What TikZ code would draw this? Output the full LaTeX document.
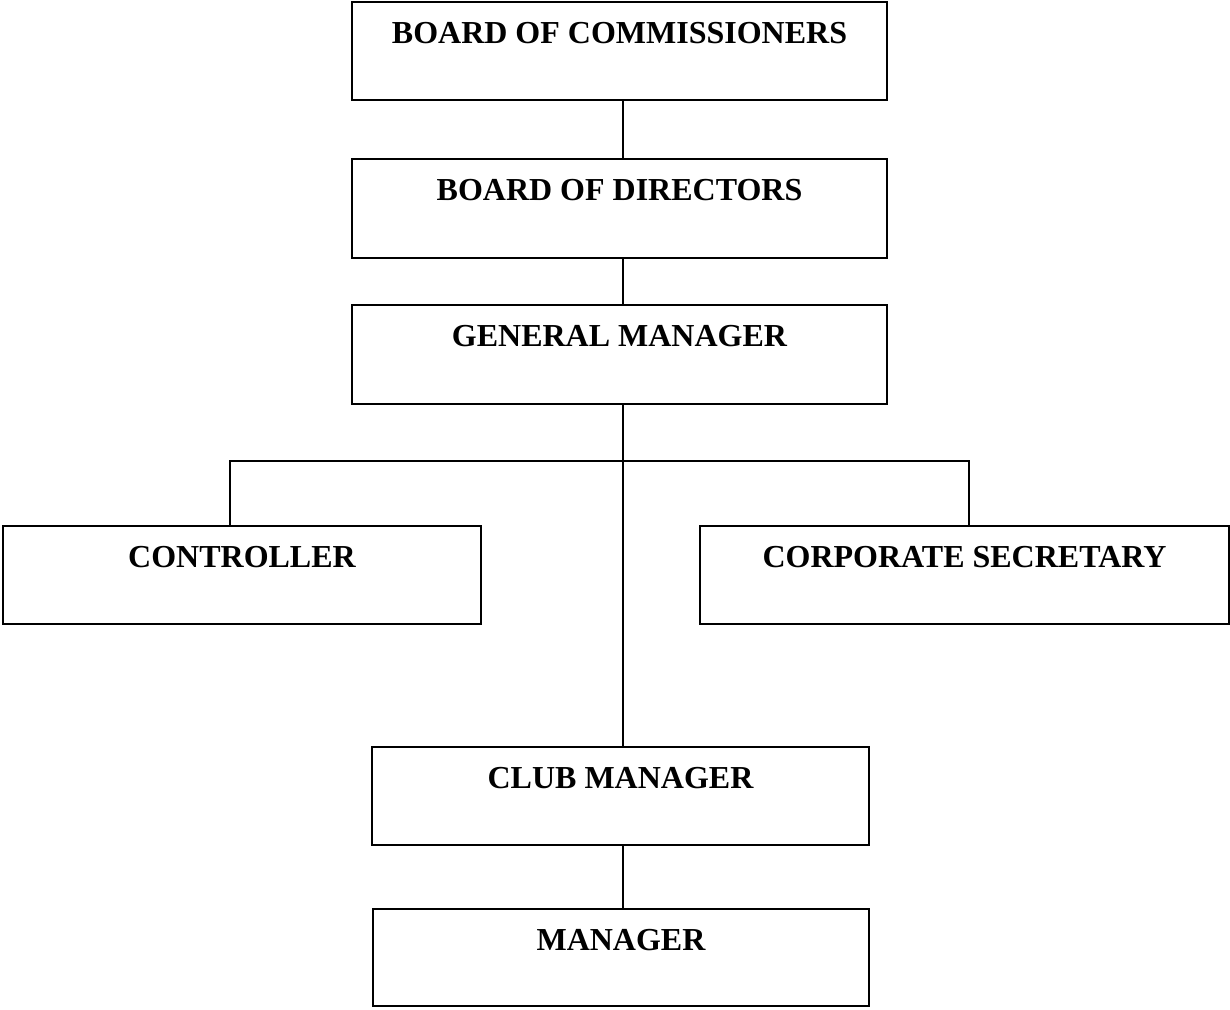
\documentclass[tikz,border=0pt]{standalone}
\usepackage{fontspec}
\setmainfont{Liberation Serif}
\begin{document}
\begin{tikzpicture}[x=1pt,y=-1pt,
  box/.style={draw=black, line width=2pt, rectangle, inner sep=0pt},
  lbl/.style={anchor=base, inner sep=0pt, font=\fontsize{32}{37}\selectfont\bfseries},
  conn/.style={draw=black, line width=2pt}]
\useasboundingbox (0,0) rectangle (1230,1009);
% boxes
\node[box, minimum width=535pt, minimum height=98pt] (bc) at (619.5,51) {};
\node[box, minimum width=535pt, minimum height=99pt] (bd) at (619.5,208.5) {};
\node[box, minimum width=535pt, minimum height=99pt] (gm) at (619.5,354.5) {};
\node[box, minimum width=478pt, minimum height=98pt] (ct) at (242,575) {};
\node[box, minimum width=529pt, minimum height=98pt] (cs) at (964.5,575) {};
\node[box, minimum width=497pt, minimum height=98pt] (cm) at (620.5,796) {};
\node[box, minimum width=496pt, minimum height=97pt] (mg) at (621,957.5) {};
% labels
\node[lbl] (bct) at ([yshift=-42pt]bc.north) {BOARD OF COMMISSIONERS};
\node[lbl] (bdt) at ([yshift=-42pt]bd.north) {BOARD OF DIRECTORS};
\node[lbl] (gmt) at ([yshift=-42pt]gm.north) {GENERAL MANAGER};
\node[lbl] (ctt) at ([yshift=-42pt]ct.north) {CONTROLLER};
\node[lbl] (cst) at ([yshift=-42pt]cs.north) {CORPORATE SECRETARY};
\node[lbl] (cmt) at ([yshift=-42pt]cm.north) {CLUB MANAGER};
\node[lbl] (mgt) at ([yshift=-42pt]mg.north) {MANAGER};
% connectors
\coordinate (spine) at (623,0);
\coordinate (lt) at (230,461);
\coordinate (rt) at (969,461);
\draw[conn] (bc.south -| spine) -- (bd.north -| spine);
\draw[conn] (bd.south -| spine) -- (gm.north -| spine);
\draw[conn] (gm.south -| spine) -- (cm.north -| spine);
\draw[conn] (ct.north -| lt) -- (lt) -- (rt) -- (cs.north -| rt);
\draw[conn] (cm.south -| spine) -- (mg.north -| spine);
\end{tikzpicture}
\end{document}
